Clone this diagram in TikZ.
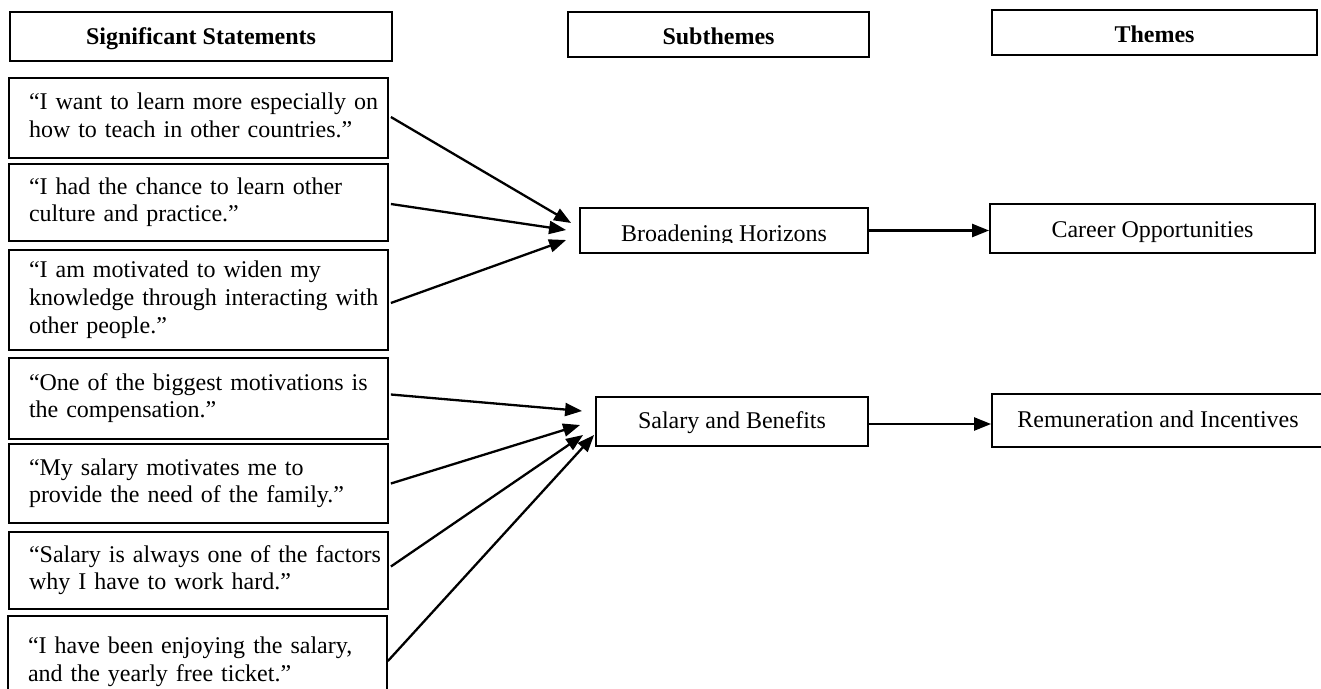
\documentclass[tikz,border=0pt]{standalone}
\usepackage{fontspec}
\setmainfont{Liberation Serif}
\usetikzlibrary{arrows.meta,calc}
\newcommand{\stlines}[1]{\begin{tabular}{@{}l@{}}#1\end{tabular}}
\begin{document}
\begin{tikzpicture}[x=1pt,y=-1pt,
  box/.style={draw,line width=1.8pt,rectangle,inner sep=0pt,font=\fontsize{24}{27.6}\selectfont},
  stmt/.style={box,text width=339pt,inner xsep=20pt,align=left},
  head/.style={box,font=\fontsize{24}{27.6}\selectfont\bfseries},
  drop/.style={text height=#1,text depth=0pt},
  arr/.style={line width=2.3pt,-{Triangle[length=17pt,width=13pt]}}]
\useasboundingbox (0,0) rectangle (1321,688);
\clip (0,0) rectangle (1321,688);

% headers
\node[head,drop=15pt,minimum width=382pt,minimum height=49pt] (h1) at (201,36.5) {Significant Statements};
\node[head,drop=20pt,minimum width=301pt,minimum height=45pt] (h2) at (718.5,34.5) {Subthemes};
\node[head,drop=20pt,minimum width=325pt,minimum height=45pt] (h3) at (1154.5,32.5) {Themes};

% statements
\node[stmt,minimum height=80pt] (s1) at (198.5,118) {\stlines{“I want to learn more especially on\\ how to teach in other countries.”}};
\node[stmt,minimum height=77pt] (s2) at (198.5,202.5) {\stlines{“I had the chance to learn other\\ culture and practice.”}};
\node[stmt,minimum height=100pt] (s3) at (198.5,300) {\stlines{“I am motivated to widen my\\ knowledge through interacting with\\ other people.”}};
\node[stmt,minimum height=81pt] (s4) at (198.5,398.5) {\stlines{“One of the biggest motivations is\\ the compensation.”}};
\node[stmt,minimum height=79pt] (s5) at (198.5,483.5) {\stlines{“My salary motivates me to\\ provide the need of the family.”}};
\node[stmt,minimum height=77pt] (s6) at (198.5,570.5) {\stlines{“Salary is always one of the factors\\ why I have to work hard.”}};
\node[stmt,minimum height=92pt] (s7) at (197.5,662) {\stlines{“I have been enjoying the salary,\\ and the yearly free ticket.”}};

% subthemes
\node[box,minimum width=288pt,minimum height=45pt] (bh) at (724,230.5) {};
\begin{scope}
  \clip (580,208) rectangle (868,242);
  \node[font=\fontsize{24}{27.6}\selectfont,anchor=base,inner sep=0pt] (bht) at (724,241) {Broadening Horizons};
\end{scope}
\node[box,drop=13pt,minimum width=272pt,minimum height=49pt] (sb) at (732,421.5) {Salary and Benefits};

% themes
\node[box,drop=17pt,minimum width=325pt,minimum height=49pt] (co) at (1152.5,228.5) {Career Opportunities};
\node[box,drop=13pt,minimum width=332pt,minimum height=53pt] (ri) at (1158,420.5) {Remuneration and Incentives};

% connectors
\draw[arr] ($(s1.east)+(2,-1)$) -- ($(bh.west)+(-8,-7.5)$);
\draw[arr] ($(s2.east)+(2,1.5)$) -- ($(bh.west)+(-13,-0.5)$);
\draw[arr] ($(s3.east)+(2,3)$) -- ($(bh.west)+(-13,9.5)$);

\draw[arr] ($(s4.east)+(2,-4)$) -- ($(sb.west)+(-13,-10.5)$);
\draw[arr] ($(s5.east)+(2,0)$) -- ($(sb.west)+(-15,3.5)$);
\draw[arr] ($(s6.east)+(2,-4)$) -- ($(sb.west)+(-12,13.5)$);
\draw[arr] ($(s7.east)+(0,-1)$) -- ($(sb.west)+(-1,13.5)$);

\coordinate (bho) at (bh.east);
\coordinate (sbo) at ($(sb.east)+(0,2.5)$);
\draw[arr] (bho) -- (bho -| co.west);
\draw[arr] (sbo) -- (sbo -| ri.west);
\end{tikzpicture}
\end{document}
